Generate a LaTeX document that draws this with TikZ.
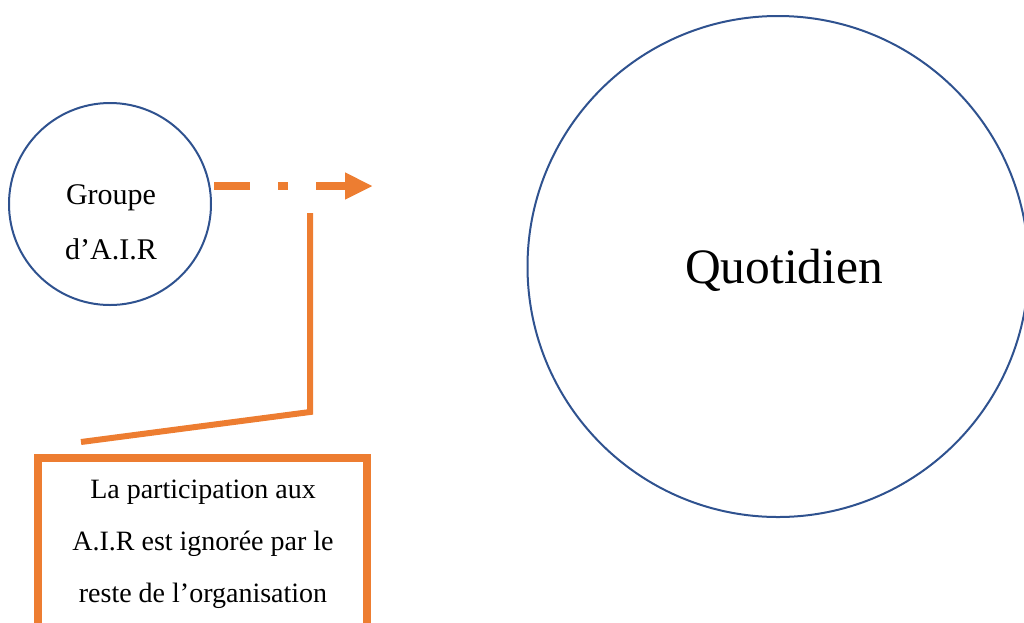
\documentclass[tikz,border=0pt]{standalone}
\usepackage{fontspec}
\setmainfont{Liberation Serif}
\usetikzlibrary{arrows.meta}
\definecolor{airblue}{RGB}{47,82,143}
\definecolor{airorange}{RGB}{237,125,49}
\begin{document}
\begin{tikzpicture}[
  x=1pt, y=-1pt,
  ring/.style={circle,draw=airblue,line width=2pt,inner sep=0pt},
  label/.style={inner sep=0pt,align=center},
  callout/.style={draw=airorange,line width=6pt}
]
  \useasboundingbox (0,0) rectangle (1024,622);
  % circles
  \node[ring,minimum size=202pt] (groupe) at (110,204) {};
  \node[ring,minimum size=501pt] (quot) at (778,266.5) {};
  \node[label,font=\fontsize{30}{55}\selectfont] (groupetxt) at (111,222) {Groupe\\d’A.I.R};
  \node[label,font=\fontsize{49.5}{60}\selectfont,anchor=base] (quottxt) at (784,283) {Quotidien};

  % dash-dot arrow
  \coordinate (tip) at (373,186);
  \draw[airorange,line width=8pt,dash pattern=on 36pt off 28pt on 10pt off 28pt,
        -{Triangle[length=28pt,width=25pt]}] (groupe.east) ++(2,-18) -- (tip);

  % note box
  \node[draw=airorange,line width=8pt,outer sep=0pt,minimum width=329pt,minimum height=190pt,
        anchor=north west] (noteframe) at (37.5,457.5) {};
  \node[label,font=\fontsize{28}{52}\selectfont] (note) at (203,544)
    {La participation aux\\A.I.R est ignorée par le\\reste de l’organisation};

  % callout line
  \coordinate (c1) at (310,213);
  \coordinate (c2) at (310,412);
  \coordinate (c3) at (81,442);
  \draw[callout,line join=miter] (c1) -- (c2) -- (c3);
\end{tikzpicture}
\end{document}
